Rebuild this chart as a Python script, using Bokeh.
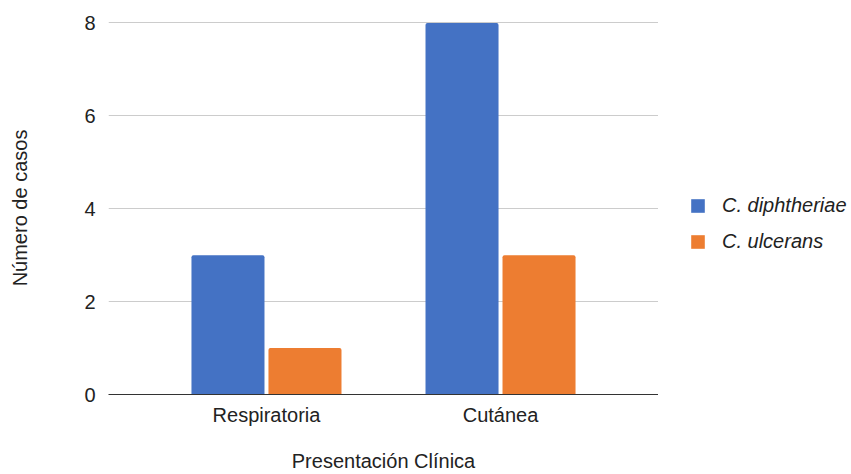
from bokeh.plotting import figure
from bokeh.models import FactorRange, Range1d, Legend, LegendItem, FixedTicker, ColumnDataSource
from bokeh.transform import dodge
from bokeh.layouts import row
from bokeh.embed import file_html
from bokeh.resources import INLINE

categories = ["Respiratoria", "Cutánea"]
series_names = ["C. diphtheriae", "C. ulcerans"]
diphtheriae = [3, 8]
ulcerans = [1, 3]
y_ticks = [0, 2, 4, 6, 8]

colors = ["#4472c4", "#ed7d31"]
FONT = "Liberation Sans"
FS = "20px"

src = ColumnDataSource(dict(cat=categories, d=diphtheriae, u=ulcerans))

p = figure(width=658, height=474, output_backend="svg", toolbar_location=None,
           x_range=FactorRange(factors=categories, range_padding=0.175),
           y_range=Range1d(0, 8.03),
           min_border_left=108, min_border_right=0, min_border_top=21, min_border_bottom=80)
p.outline_line_color = None
p.background_fill_color = "white"

r1 = p.vbar(x=dodge("cat", -0.1645, range=p.x_range), top="d", width=0.312, source=src,
            fill_color=colors[0], line_color=None, border_radius=(2, 2, 0, 0))
r2 = p.vbar(x=dodge("cat", 0.1645, range=p.x_range), top="u", width=0.312, source=src,
            fill_color=colors[1], line_color=None, border_radius=(2, 2, 0, 0))

p.xgrid.grid_line_color = None
p.ygrid.grid_line_color = "#cccccc"
p.ygrid.ticker = FixedTicker(ticks=y_ticks)
p.yaxis.ticker = FixedTicker(ticks=y_ticks)

for ax in (p.xaxis[0], p.yaxis[0]):
    ax.major_tick_line_color = None
    ax.minor_tick_line_color = None
    ax.major_label_text_font = FONT
    ax.major_label_text_font_size = FS
    ax.major_label_text_color = "#222222"
    ax.axis_label_text_font = FONT
    ax.axis_label_text_font_size = FS
    ax.axis_label_text_color = "#222222"
    ax.axis_label_text_font_style = "normal"

p.yaxis.axis_line_color = None
p.yaxis.major_label_standoff = 7
p.yaxis.axis_label = "Número de casos"
p.yaxis.axis_label_standoff = 50

p.xaxis.axis_line_color = "#333333"
p.xaxis.major_label_standoff = 3
p.xaxis.axis_label = "Presentación Clínica"
p.xaxis.axis_label_standoff = 21

# legend panel
lg = figure(width=190, height=458, output_backend="svg", toolbar_location=None,
            x_range=Range1d(0, 1), y_range=Range1d(0, 1), min_border=0)
lg.outline_line_color = None
lg.axis.visible = False
lg.grid.visible = False
lr1 = lg.vbar(x=[0], top=[0], width=0, fill_color=colors[0], line_color=None, border_radius=2)
lr2 = lg.vbar(x=[0], top=[0], width=0, fill_color=colors[1], line_color=None, border_radius=2)

legend = Legend(items=[LegendItem(label=series_names[0], renderers=[lr1]),
                       LegendItem(label=series_names[1], renderers=[lr2])],
                location=(31, 125), orientation="vertical",
                padding=0, margin=0, spacing=13,
                glyph_width=17, glyph_height=17, label_height=23,
                label_standoff=16,
                label_text_font=FONT, label_text_font_size=FS,
                label_text_font_style="italic", label_text_color="#222222",
                border_line_color=None, background_fill_alpha=0)
lg.add_layout(legend, "center")

layout = row(p, lg)
open("out.html", "w").write(file_html(layout, INLINE))
